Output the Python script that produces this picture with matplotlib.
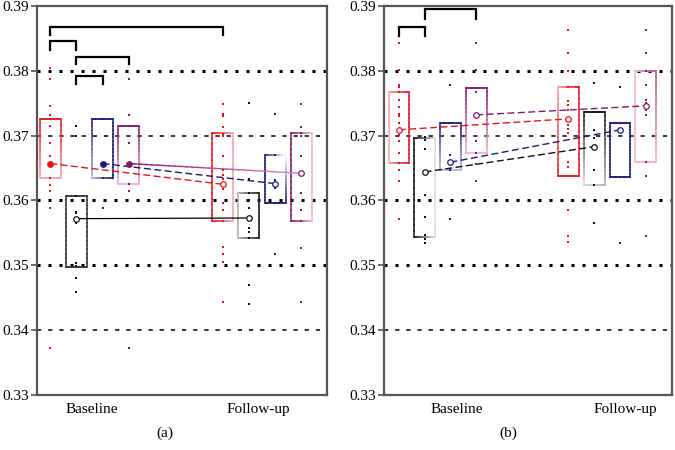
import numpy as np
import matplotlib
matplotlib.use("Agg")
import matplotlib.pyplot as plt
from matplotlib.collections import LineCollection
from matplotlib.colors import to_rgba

# ---- data ----
times = ["Baseline", "Follow-up"]
panel_labels = ["(a)", "(b)"]
y_ticks = [0.33, 0.34, 0.35, 0.36, 0.37, 0.38, 0.39]

# panel (a) individual values (red, black, blue, purple groups)
a_base_red = [0.3805, 0.3788, 0.3745, 0.3732, 0.3715, 0.3688, 0.3669, 0.3657, 0.3634,
              0.3624, 0.3615, 0.3589, 0.3372]
a_base_black = [0.3715, 0.3700, 0.3607, 0.3583, 0.3580, 0.3565, 0.3503, 0.3499, 0.3480, 0.3459]
a_base_blue = [0.3726, 0.3657, 0.3634, 0.3589]
a_base_purple = [0.3788, 0.3732, 0.3715, 0.3688, 0.3657, 0.3625, 0.3615, 0.3372]
a_follow_red = [0.3749, 0.3733, 0.3730, 0.3714, 0.3703, 0.3700, 0.3669, 0.3647, 0.3639,
                0.3633, 0.3617, 0.3596, 0.3586, 0.3569, 0.3528, 0.3518, 0.3505, 0.3443]
a_follow_black = [0.3751, 0.3633, 0.3611, 0.3601, 0.3589, 0.3557, 0.3552, 0.3542, 0.3469, 0.3441]
a_follow_blue = [0.3733, 0.3670, 0.3631, 0.3620, 0.3596, 0.3518]
a_follow_purple = [0.3749, 0.3714, 0.3704, 0.3700, 0.3669, 0.3611, 0.3586, 0.3569, 0.3526, 0.3443]

a_base_q1 = [0.3634, 0.3497, 0.3634, 0.3625]
a_base_q3 = [0.3726, 0.3607, 0.3726, 0.3715]
a_follow_q1 = [0.3569, 0.3542, 0.3596, 0.3569]
a_follow_q3 = [0.3704, 0.3611, 0.3670, 0.3704]
a_mean_base = [0.3657, 0.3572, 0.3657, 0.3657]
a_mean_follow = [0.3625, 0.3573, 0.3626, 0.3642]

# panel (b)
b_base_red = [0.3843, 0.3801, 0.3778, 0.3775, 0.3768, 0.3755, 0.3744, 0.3733, 0.3730, 0.3719,
              0.3701, 0.3691, 0.3673, 0.3658, 0.3647, 0.3630, 0.3571]
b_base_black = [0.3698, 0.3693, 0.3680, 0.3609, 0.3575, 0.3547, 0.3541, 0.3535]
b_base_blue = [0.3778, 0.3720, 0.3670, 0.3647, 0.3571]
b_base_purple = [0.3843, 0.3801, 0.3773, 0.3768, 0.3691, 0.3673, 0.3656, 0.3630]
b_follow_red = [0.3863, 0.3828, 0.3799, 0.3775, 0.3753, 0.3747, 0.3740, 0.3716, 0.3711, 0.3704,
                0.3660, 0.3652, 0.3638, 0.3585, 0.3545, 0.3536]
b_follow_black = [0.3781, 0.3737, 0.3709, 0.3696, 0.3647, 0.3624, 0.3565, 0.3501]
b_follow_blue = [0.3775, 0.3719, 0.3636, 0.3535]
b_follow_purple = [0.3863, 0.3828, 0.3799, 0.3778, 0.3755, 0.3751, 0.3740, 0.3732, 0.3660,
                   0.3638, 0.3545]

b_base_q1 = [0.3658, 0.3543, 0.3647, 0.3673]
b_base_q3 = [0.3768, 0.3697, 0.3720, 0.3774]
b_follow_q1 = [0.3638, 0.3624, 0.3636, 0.3660]
b_follow_q3 = [0.3775, 0.3737, 0.3719, 0.3799]
b_mean_base = [0.3709, 0.3644, 0.3659, 0.3732]
b_mean_follow = [0.3726, 0.3683, 0.3709, 0.3746]

# significance brackets: (group i, time i, group j, time j, top y, leg y)
a_brackets = [(0, 0, 0, 1, 0.3868, 0.3855), (0, 0, 1, 0, 0.3846, 0.3832),
              (1, 0, 3, 0, 0.3822, 0.3810), (1, 0, 2, 0, 0.3792, 0.3779)]
b_brackets = [(0, 0, 1, 0, 0.3867, 0.3853), (1, 0, 3, 0, 0.3895, 0.3880)]

# ---- style ----
RED, BLACK, NAVY, PURPLE = "#e8141c", "#111111", "#1c1c78", "#86166a"
PINK_R, GRAY, LAV, PINK_P = "#f6a4aa", "#b4b4b4", "#b4b4e4", "#efb4d6"
colors = [RED, BLACK, NAVY, PURPLE]
spacing = 0.152
box_w = 0.122

# box edge corner colours (top-left, top-right, bottom-left, bottom-right)
a_corners = [
    [(RED, RED, PINK_R, PINK_R), ("#333", "#333", "#333", "#333"),
     (NAVY, NAVY, LAV, NAVY), (PURPLE, PURPLE, PINK_P, PINK_P)],
    [(RED, PINK_R, RED, PINK_R), (GRAY, "#222", GRAY, "#222"),
     (NAVY, "white", NAVY, NAVY), (PURPLE, PINK_P, PURPLE, PINK_P)],
]
b_corners = [
    [(PINK_R, RED, PINK_R, RED), (BLACK, "#dddddd", BLACK, "#dddddd"),
     (NAVY, NAVY, LAV, LAV), (PURPLE, PURPLE, PINK_P, PINK_P)],
    [(PINK_R, RED, RED, RED), (BLACK, BLACK, "#dddddd", GRAY),
     (NAVY, NAVY, NAVY, NAVY), (PINK_P, "#b2508e", PINK_P, PINK_P)],
]


def grad_line(ax, x0, y0, x1, y1, c0, c1, lw=1.1, n=16):
    xs = np.linspace(x0, x1, n + 1)
    ys = np.linspace(y0, y1, n + 1)
    segs = [[(xs[i], ys[i]), (xs[i + 1], ys[i + 1])] for i in range(n)]
    a = np.array(to_rgba(c0))
    b = np.array(to_rgba(c1))
    t = (np.arange(n) + 0.5) / n
    cols = a[None, :] * (1 - t[:, None]) + b[None, :] * t[:, None]
    ax.add_collection(LineCollection(segs, colors=cols, linewidths=lw,
                                     capstyle="projecting", zorder=3))


def draw_box(ax, x, lo, hi, corners):
    tl, tr, bl, br = corners
    l, r = x - box_w / 2, x + box_w / 2
    grad_line(ax, l, hi, r, hi, tl, tr)
    grad_line(ax, l, lo, r, lo, bl, br)
    grad_line(ax, l, hi, l, lo, tl, bl)
    grad_line(ax, r, hi, r, lo, tr, br)


def xpos(g, t):
    return 1 + t + (g - 1.5) * spacing


plt.rcParams["font.family"] = ["Liberation Serif", "DejaVu Serif"]
fig = plt.figure(figsize=(6.75, 4.5), dpi=100)
ax_a = fig.add_axes([0.0548, 0.1222, 0.4296, 0.8645])
ax_b = fig.add_axes([0.5689, 0.1222, 0.4267, 0.8645])

panels = [
    (ax_a, [[a_base_red, a_base_black, a_base_blue, a_base_purple],
            [a_follow_red, a_follow_black, a_follow_blue, a_follow_purple]],
     [a_base_q1, a_follow_q1], [a_base_q3, a_follow_q3], [a_mean_base, a_mean_follow],
     a_corners, a_brackets, (0.696, 2.377), [1.015, 1.98]),
    (ax_b, [[b_base_red, b_base_black, b_base_blue, b_base_purple],
            [b_follow_red, b_follow_black, b_follow_blue, b_follow_purple]],
     [b_base_q1, b_follow_q1], [b_base_q3, b_follow_q3], [b_mean_base, b_mean_follow],
     b_corners, b_brackets, (0.684, 2.383), [1.113, 2.11]),
]

for pi, (ax, pts, q1, q3, means, corners, brackets, xlim, xt) in enumerate(panels):
    # dotted reference lines
    for yv in [0.34, 0.35, 0.36, 0.37, 0.38]:
        if yv in (0.35, 0.36, 0.38):
            ax.axhline(yv, color="black", lw=2.2, dashes=(1, 2.6), zorder=1)
        else:
            ax.axhline(yv, color="black", lw=1.1, dashes=(2.8, 4.5), zorder=1)

    for t in range(2):
        for g in range(4):
            x = xpos(g, t)
            draw_box(ax, x, q1[t][g], q3[t][g], corners[t][g])
            ax.scatter([x] * len(pts[t][g]), pts[t][g], s=3, marker="s",
                       color=colors[g], linewidths=0, zorder=4)

    # lines joining the means
    for g in range(4):
        xs = [xpos(g, 0), xpos(g, 1)]
        ys = [means[0][g], means[1][g]]
        if pi == 0 and g == 1:
            ax.plot(xs, ys, color="black", lw=0.9, zorder=3)
        elif pi == 0 and g == 3:
            grad_line(ax, xs[0], ys[0], xs[1], ys[1], PURPLE, "#e48cc4", lw=1.0, n=30)
        else:
            ax.plot(xs, ys, color=colors[g], lw=1.0, dashes=(5, 2.5), zorder=3)
        for t in range(2):
            filled = (pi == 0 and t == 0 and g != 1)
            ax.plot(xs[t], ys[t], marker="o", ms=4, mew=0.9, mec=colors[g],
                    mfc=colors[g] if filled else "white", zorder=5)

    # significance brackets
    for g0, t0, g1, t1, top, leg in brackets:
        x0, x1 = xpos(g0, t0), xpos(g1, t1)
        ax.plot([x0, x0, x1, x1], [leg, top, top, leg], color="black", lw=1.6,
                solid_joinstyle="miter", zorder=6)

    ax.set_xlim(*xlim)
    ax.set_ylim(0.33, 0.39)
    ax.set_yticks(y_ticks)
    ax.set_yticklabels([f"{v:.2f}" for v in y_ticks], fontsize=11)
    ax.set_xticks(xt)
    ax.set_xticklabels(times, fontsize=11)
    ax.tick_params(axis="x", length=0, pad=6)
    ax.tick_params(axis="y", length=4, width=1.2, color="#555555", pad=2)
    for sp in ax.spines.values():
        sp.set_color("#555555")
        sp.set_linewidth(1.6)

fig.text(165 / 675, 1 - 433 / 450, panel_labels[0], ha="center", va="center", fontsize=11)
fig.text(508 / 675, 1 - 433 / 450, panel_labels[1], ha="center", va="center", fontsize=11)

fig.savefig("out.png", dpi=100)
